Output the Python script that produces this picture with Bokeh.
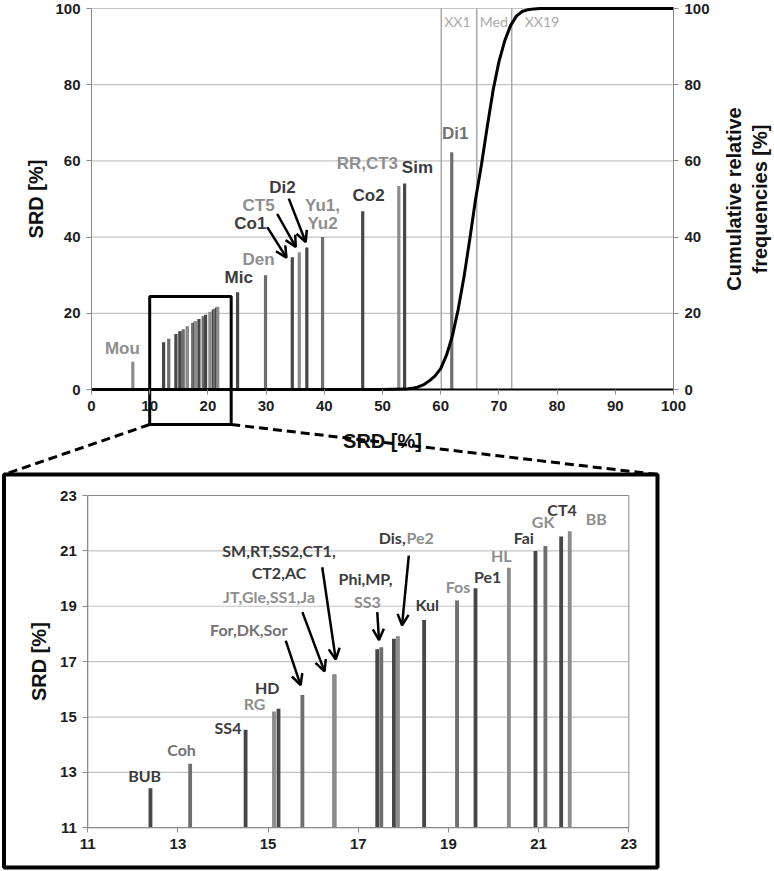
import math
from bokeh.plotting import figure
from bokeh.models import (ColumnDataSource, LinearAxis, Range1d, FixedTicker, Arrow, OpenHead)
from bokeh.core.properties import value
from bokeh.embed import file_html
from bokeh.resources import INLINE

# ---------------- data ----------------
# bars inside the zoomed window (bottom chart, also shown in top chart)
z_names = ["BUB", "Coh", "SS4", "RG", "HD", "For,DK,Sor", "SM,RT,SS2,CT1,CT2,AC",
           "JT,Gle,SS1,Ja", "Phi,MP", "SS3", "Dis", "Pe2", "Kul", "Fos", "Pe1",
           "HL", "Fai", "GK", "CT4", "BB"]
z_x = [12.39, 13.27, 14.50, 15.13, 15.23, 15.76, 16.47, 16.47, 17.42, 17.51,
       17.79, 17.88, 18.46, 19.19, 19.60, 20.34, 20.93, 21.15, 21.50, 21.69]
z_h = [12.43, 13.31, 14.54, 15.20, 15.30, 15.80, 16.54, 16.54, 17.45, 17.52,
       17.83, 17.92, 18.50, 19.21, 19.65, 20.39, 21.00, 21.18, 21.52, 21.71]
z_shade = ["d", "m", "d", "l", "d", "m", "d", "l", "d", "m",
           "d", "l", "d", "m", "d", "l", "d", "m", "d", "l"]

# other bars (top chart only)
o_names = ["Mou", "Mic", "Den", "Co1", "CT5", "Di2", "Yu1,Yu2", "Co2", "RR,CT3", "Sim", "Di1"]
o_x = [7.1, 25.1, 29.9, 34.5, 35.7, 37.0, 39.7, 46.6, 52.8, 53.8, 61.9]
o_h = [7.3, 25.5, 30.0, 34.7, 36.0, 37.3, 40.0, 46.8, 53.4, 54.1, 62.3]
o_shade = ["l", "d", "m", "d", "l", "d", "m", "d", "l", "d", "m"]

# cumulative relative frequency curve
cum_x = [0, 50, 54, 55, 56, 57, 58, 59, 60, 61, 62, 63, 64, 65, 66, 67, 68,
         69, 70, 71, 72, 73, 74, 75, 76, 77, 100]
cum_y = [0, 0, 0.1, 0.3, 0.6, 1.2, 2.2, 3.5, 5.5, 9, 14, 21, 29.5, 39.5, 50,
         59, 69, 78.5, 86, 91.5, 95.5, 98, 99.2, 99.7, 99.9, 100, 100]

# quantile markers
q_names = ["XX1", "Med", "XX19"]
q_x = [60.1, 66.2, 72.2]

top_x_ticks = list(range(0, 101, 10))
top_y_ticks = list(range(0, 101, 20))
bot_ticks = [11, 13, 15, 17, 19, 21, 23]
zoom_window = (10, 24, 24.4)   # x from, x to, y top of the marked window

# ---------------- layout / styles ----------------
W, H = 772, 870
TX0, TX1, TY0, TY1 = 91.0, 673.0, 389.0, 8.0        # pixel of x=0, x=100, y=0, y=100
BX0, BX1, BY0, BY1 = 87.3, 628.3, 827.3, 495.0      # pixel of x=11, x=23, y=11, y=23
BOX = (3.5, 657.0, 474.0, 867.0)                    # outer frame of the zoomed chart (px)
ZB_BOTTOM_PX = 424.0

BAR = {"d": "#474747", "m": "#6e6e6e", "l": "#8c8c8c"}
TXT = {"d": "#3c3c3c", "m": "#727272", "l": "#8e8e8e"}
ARIAL_NAME = "Liberation Sans"
ARIAL = value(ARIAL_NAME)
CALIBRI = value("Lato")
GRID = "#c4c4c4"
AXG = "#8a8a8a"

tsx = (TX1 - TX0) / 100.0
tsy = (TY0 - TY1) / 100.0
bsx = (BX1 - BX0) / 12.0
bsy = (BY0 - BY1) / 12.0


def tp(px, py):
    return (px - TX0) / tsx, (TY0 - py) / tsy


def bp(px, py):
    return 11 + (px - BX0) / bsx, 11 + (BY0 - py) / bsy


p = figure(width=W, height=H,
           x_range=Range1d(tp(0, 0)[0], tp(W, 0)[0]),
           y_range=Range1d(tp(0, H)[1], tp(0, 0)[1]),
           x_axis_type=None, y_axis_type=None,
           output_backend="svg", toolbar_location=None,
           min_border=0, min_border_left=0, min_border_right=0,
           min_border_top=0, min_border_bottom=0)
p.outline_line_color = None
p.background_fill_color = "white"
p.border_fill_color = "white"
p.extra_y_ranges = {"cum": Range1d(tp(0, H)[1], tp(0, 0)[1]),
                    "zy": Range1d(bp(0, H)[1], bp(0, 0)[1])}
p.extra_x_ranges = {"zx": Range1d(bp(0, 0)[0], bp(W, 0)[0])}
Z = dict(x_range_name="zx", y_range_name="zy")


def make_axis(ticks, loc, bounds, line_color=AXG, line_width=1, **kw):
    ax = LinearAxis(ticker=FixedTicker(ticks=ticks), fixed_location=loc, bounds=bounds, **kw)
    ax.axis_line_color = line_color
    ax.axis_line_width = line_width
    ax.major_tick_line_color = AXG
    ax.major_tick_out = 5
    ax.major_tick_in = 0
    ax.minor_tick_line_color = None
    ax.major_label_text_font = ARIAL_NAME
    ax.major_label_text_font_style = "bold"
    ax.major_label_text_font_size = "15px"
    ax.major_label_text_color = "#1e1e1e"
    ax.major_label_standoff = 6
    return ax


# ---------------- top chart ----------------
p.segment(x0=0, x1=100, y0=top_y_ticks[1:], y1=top_y_ticks[1:], line_color=GRID, line_width=1.2)
p.segment(x0=q_x, y0=0, x1=q_x, y1=100, line_color="#a8a8a8", line_width=1.5)
p.text(x=q_x, y=96.5, text=q_names, x_offset=[3, 3, 13], text_font=CALIBRI,
       text_font_size="14px", text_color="#a9a9a9", text_align="left", text_baseline="middle")

all_x = o_x[:1] + z_x + o_x[1:]
all_h = o_h[:1] + z_h + o_h[1:]
all_c = [BAR[s] for s in (o_shade[:1] + z_shade + o_shade[1:])]
p.vbar(x=all_x, top=all_h, bottom=0, width=0.55, fill_color=all_c, line_color=None)

p.line(cum_x, cum_y, y_range_name="cum", line_color="black", line_width=3)

p.add_layout(make_axis(top_x_ticks, 0, (0, 100), "#000000", 2), "below")
p.add_layout(make_axis(top_y_ticks, 0, (0, 100)), "left")
p.add_layout(make_axis(top_y_ticks, 100, (0, 100), y_range_name="cum"), "right")

top_labels = [("Mou", 5.3, 10.8, "l"), ("Mic", 25.3, 29.5, "d"), ("Den", 28.7, 34.0, "l"),
              ("Co1", 27.3, 43.6, "d"), ("CT5", 28.7, 48.3, "l"), ("Di2", 32.8, 53.1, "d"),
              ("Yu1,", 39.7, 48.3, "l"), ("Yu2", 39.7, 43.5, "l"), ("Co2", 47.6, 50.9, "d"),
              ("RR,CT3", 47.4, 59.3, "l"), ("Sim", 56.0, 58.3, "d"), ("Di1", 62.5, 67.1, "m")]
src1 = ColumnDataSource(dict(x=[t[1] for t in top_labels], y=[t[2] for t in top_labels],
                             text=[t[0] for t in top_labels],
                             color=[TXT[t[3]] for t in top_labels]))
p.text(x="x", y="y", text="text", text_color="color", source=src1, text_font=ARIAL,
       text_font_style="bold", text_font_size="17px", text_align="center",
       text_baseline="middle")

top_arrows = [((30.2, 42.6), (33.5, 34.6)), ((31.9, 46.1), (35.1, 37.4)),
              ((33.9, 50.1), (36.8, 38.7))]
for (xs, ys), (xe, ye) in top_arrows:
    p.add_layout(Arrow(x_start=xs, y_start=ys, x_end=xe, y_end=ye, line_width=2.5,
                       end=OpenHead(size=11, line_width=2.5)))

# axis titles of the top chart
title_style = dict(text_font=ARIAL, text_font_style="bold", text_font_size="20px",
                   text_color="#111111", text_align="center", text_baseline="middle")
tx, ty = tp(35, (TY0 + TY1) / 2)
p.text(x=[tx], y=[ty], text=["SRD [%]"], angle=math.pi / 2, **title_style)
rx1, _ = tp(733, 0)
rx2, _ = tp(759, 0)
p.text(x=[rx1, rx2], y=[ty, ty], text=["Cumulative relative", "frequencies [%]"],
       angle=math.pi / 2, **title_style)
bx, by = tp((TX0 + TX1) / 2, 440)
p.text(x=[bx], y=[by], text=["SRD [%]"], **title_style)

# zoom window + connectors
zb = tp(0, ZB_BOTTOM_PX)[1]
p.quad(left=zoom_window[0], right=zoom_window[1], bottom=zb, top=zoom_window[2],
       fill_color=None, line_color="black", line_width=3)
cl = tp(BOX[0], BOX[2])
cr = tp(BOX[1], BOX[2])
p.segment(x0=[zoom_window[0], zoom_window[1]], y0=[zb, zb], x1=[cl[0], cr[0]], y1=[cl[1], cr[1]],
          line_color="black", line_width=3, line_dash="9 5")

# ---------------- bottom chart ----------------
p.segment(x0=11, x1=23, y0=bot_ticks[1:-1], y1=bot_ticks[1:-1], line_color=GRID,
          line_width=1.2, **Z)
p.quad(left=11, right=23, bottom=11, top=23, fill_color=None, line_color=AXG, line_width=1, **Z)
p.vbar(x=z_x, top=z_h, bottom=11, width=0.085, fill_color=[BAR[s] for s in z_shade],
       line_color=None, **Z)
p.add_layout(make_axis(bot_ticks, 11, (11, 23), **Z), "below")
p.add_layout(make_axis(bot_ticks, 11, (11, 23), **Z), "left")

bot_labels = [("BUB", 12.26, 12.89, "d", "center"), ("Coh", 13.08, 13.82, "m", "center"),
              ("SS4", 14.11, 14.63, "d", "center"), ("RG", 14.70, 15.50, "l", "center"),
              ("HD", 14.98, 16.08, "d", "center"), ("For,DK,Sor", 14.57, 18.15, "m", "center"),
              ("JT,Gle,SS1,Ja", 15.02, 19.35, "l", "center"),
              ("SM,RT,SS2,CT1,", 15.24, 21.0, "d", "center"), ("CT2,AC", 15.24, 20.23, "d", "center"),
              ("Phi,MP,", 17.16, 19.99, "d", "center"), ("SS3", 17.20, 19.18, "l", "center"),
              ("Dis,", 18.05, 21.47, "d", "right"), ("Pe2", 18.07, 21.47, "l", "left"),
              ("Kul", 18.53, 19.06, "d", "center"), ("Fos", 19.21, 19.71, "l", "center"),
              ("Pe1", 19.87, 20.08, "d", "center"), ("HL", 20.17, 20.83, "l", "center"),
              ("Fai", 20.67, 21.47, "d", "center"), ("GK", 21.10, 22.06, "l", "center"),
              ("CT4", 21.52, 22.48, "d", "center"), ("BB", 22.28, 22.16, "l", "center")]
src2 = ColumnDataSource(dict(x=[t[1] for t in bot_labels], y=[t[2] for t in bot_labels],
                             text=[t[0] for t in bot_labels],
                             color=[TXT[t[3]] for t in bot_labels],
                             align=[t[4] for t in bot_labels]))
p.text(x="x", y="y", text="text", text_color="color", text_align="align", source=src2,
       text_font=CALIBRI, text_font_style="bold", text_font_size="16px",
       text_baseline="middle", **Z)

bot_arrows = [((15.39, 17.76), (15.72, 16.15)), ((15.76, 18.79), (16.25, 16.65)),
              ((16.20, 20.41), (16.50, 17.08)), ((17.42, 18.79), (17.46, 17.78)),
              ((18.12, 20.83), (17.97, 18.31))]
for (xs, ys), (xe, ye) in bot_arrows:
    p.add_layout(Arrow(x_start=xs, y_start=ys, x_end=xe, y_end=ye, line_width=2.5,
                       end=OpenHead(size=11, line_width=2.5), **Z))

yx, yy = bp(38, (BY0 + BY1) / 2)
p.text(x=[yx], y=[yy], text=["SRD [%]"], angle=math.pi / 2, **title_style, **Z)

# outer frame of the zoomed chart
b0 = bp(BOX[0], BOX[3])
b1 = bp(BOX[1], BOX[2])
p.quad(left=b0[0], right=b1[0], bottom=b0[1], top=b1[1], fill_color=None,
       line_color="black", line_width=4, **Z)

open("out.html", "w").write(file_html(p, INLINE))
